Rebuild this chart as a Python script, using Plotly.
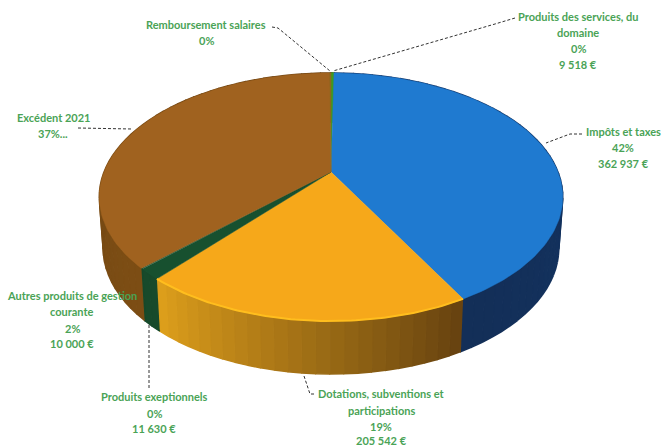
import numpy as np
import plotly.graph_objects as go

categories = ["Produits des services, du domaine", "Impôts et taxes",
              "Dotations, subventions et participations",
              "Autres produits de gestion courante", "Produits exeptionnels",
              "Excédent 2021", "Remboursement salaires"]
shares = [0.25, 41.8, 19.2, 1.4, 0.1, 37.15, 0.1]
top_colors = ["#3f9a1e", "#1f7ad0", "#f6a81a", "#17502f", "#17502f", "#a0621f", "#8a6a20"]
side_start = ["#2f6d18", "#16396c", "#664210", "#174a2b", "#174a2b", "#7d4e15", "#6a5018"]
side_end = ["#2f6d18", "#132f58", "#dfa01c", "#174a2b", "#174a2b", "#6b4213", "#6a5018"]

label_lines = [
    ["Remboursement salaires", "0%"],
    ["Produits des services, du", "domaine", "0%", "9 518 €"],
    ["Impôts et taxes", "42%", "362 937 €"],
    ["Excédent 2021", "37%..."],
    ["Autres produits de gestion", "courante", "2%", "10 000 €"],
    ["Produits exeptionnels", "0%", "11 630 €"],
    ["Dotations, subventions et", "participations", "19%", "205 542 €"],
]
label_x = [206, 578, 623, 53, 72, 154, 381]
label_line_y = [
    [24, 40],
    [16, 32, 48, 64],
    [131, 147, 163],
    [117, 133],
    [295, 311, 328, 343],
    [396, 413, 428],
    [393, 410, 426, 440],
]

leaders = [
    ([272, 278, 330], [27, 28, 71]),
    ([515, 495, 333], [18, 24, 71]),
    ([582, 570, 546], [134, 134, 143]),
    ([78, 132], [128, 129]),
    ([149, 149], [325, 388]),
    ([304, 310, 316], [376, 394, 394]),
]

# perspective view of the disc
APEX_X, APEX_Y = 331, 172
K, M, A = 227, 119, 0.2016
BOT_SX, BOT_CY, BOT_SY, TOP_CY = 0.983, 248, 1.016, 197


def rim(theta):
    u, v = np.sin(theta), np.cos(theta)
    d = 1 + A * v
    return APEX_X + K * u / d, APEX_Y - M * v / d


def rim_bottom(theta):
    x, y = rim(theta)
    return APEX_X + BOT_SX * (x - APEX_X), BOT_CY + BOT_SY * (y - TOP_CY)


def mix(c1, c2, t):
    a = [int(c1[i:i + 2], 16) for i in (1, 3, 5)]
    b = [int(c2[i:i + 2], 16) for i in (1, 3, 5)]
    return "rgb(%d,%d,%d)" % tuple(a[i] + (b[i] - a[i]) * t for i in range(3))


fig = go.Figure()
edges = np.concatenate([[0], np.cumsum(shares)]) / sum(shares) * 2 * np.pi

# side wall
for i in range(len(shares)):
    n = max(2, int((edges[i + 1] - edges[i]) / 0.05))
    t = np.linspace(edges[i], edges[i + 1], n + 1)
    for j in range(n):
        seg = np.linspace(t[j], t[j + 1], 4)
        xt, yt = rim(seg)
        xb, yb = rim_bottom(seg[::-1])
        col = mix(side_start[i], side_end[i], (j + .5) / n)
        fig.add_trace(go.Scatter(x=np.r_[xt, xb], y=np.r_[yt, yb], mode="lines",
                                 fill="toself", fillcolor=col,
                                 line=dict(color=col, width=1.5),
                                 hoverinfo="skip", showlegend=False))

# top surface
for i, name in enumerate(categories):
    t = np.linspace(edges[i], edges[i + 1], max(3, int((edges[i + 1] - edges[i]) / 0.02)))
    xt, yt = rim(t)
    fig.add_trace(go.Scatter(x=np.r_[APEX_X, xt, APEX_X], y=np.r_[APEX_Y, yt, APEX_Y],
                             mode="lines", fill="toself", fillcolor=top_colors[i],
                             line=dict(color=top_colors[i], width=0.5),
                             name=name, hoverinfo="name", showlegend=False))

# bright rim on the orange slice
t = np.linspace(edges[2], edges[3], 80)
xt, yt = rim(t)
fig.add_trace(go.Scatter(x=xt, y=yt, mode="lines", line=dict(color="#ffbe1e", width=2),
                         hoverinfo="skip", showlegend=False))

for lx, ly in leaders:
    fig.add_trace(go.Scatter(x=lx, y=ly, mode="lines",
                             line=dict(color="#333333", width=1, dash="3px,2px"),
                             hoverinfo="skip", showlegend=False))

for lines, x, ys in zip(label_lines, label_x, label_line_y):
    for txt, y in zip(lines, ys):
        fig.add_annotation(x=x, y=y, text=txt, showarrow=False, align="center",
                           xanchor="center", yanchor="middle",
                           font=dict(family="Lato", size=11, color="#4aa356", weight="bold"))

fig.update_layout(
    width=662, height=447, margin=dict(l=0, r=0, t=0, b=0),
    paper_bgcolor="white", plot_bgcolor="white", showlegend=False,
    xaxis=dict(range=[0, 662], visible=False, fixedrange=True),
    yaxis=dict(range=[447, 0], visible=False, fixedrange=True),
)
fig.write_html("out.html", config=dict(displayModeBar=False),
               post_script="document.body.style.margin='0';document.documentElement.style.overflow='hidden';")
